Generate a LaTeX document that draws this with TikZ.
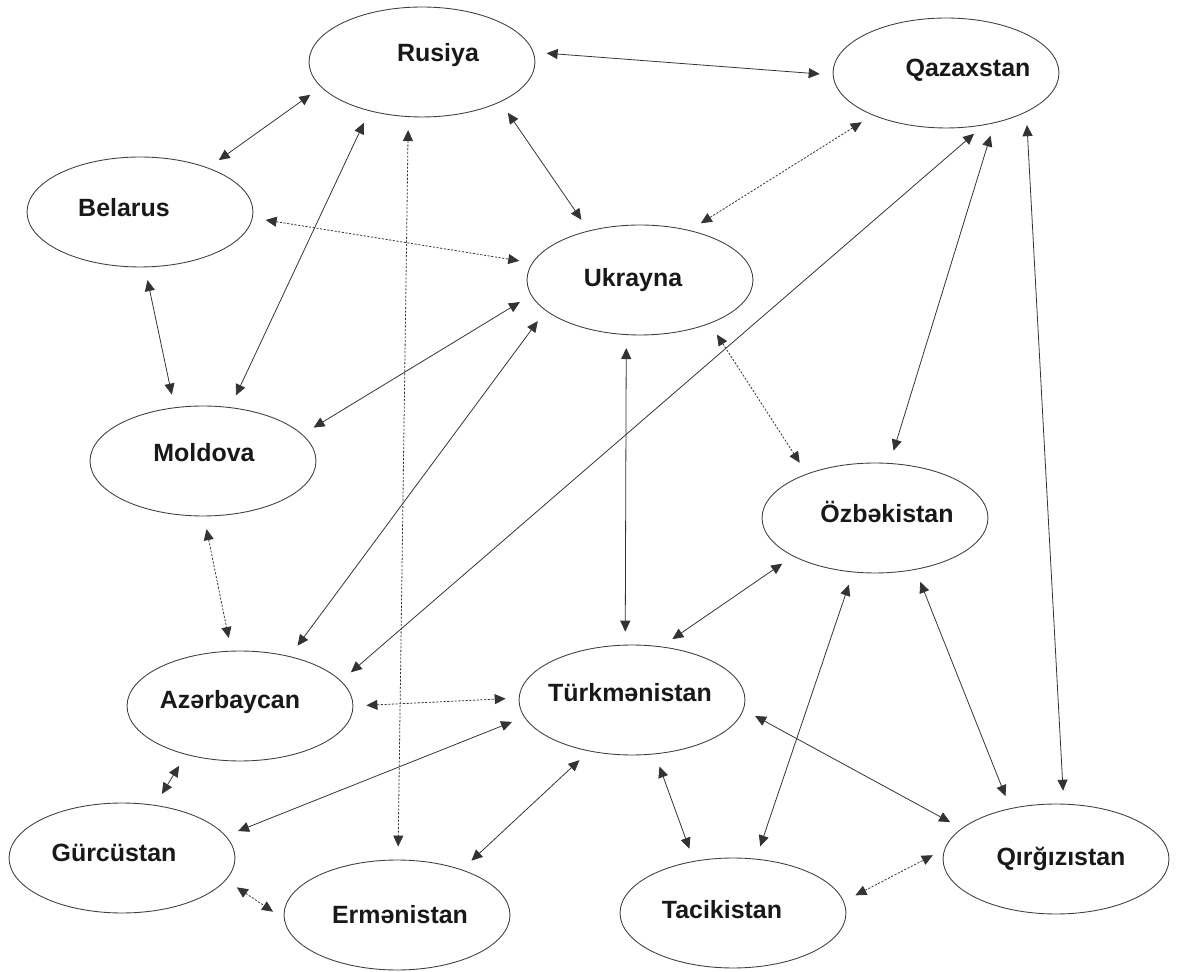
\documentclass[tikz,border=0pt]{standalone}
\usepackage{fontspec}
\setmainfont{Liberation Sans}
\usepackage{tikz}
\usetikzlibrary{shapes.geometric}
\usetikzlibrary{arrows.meta}

\begin{document}
\begin{tikzpicture}[x=0.02cm, y=-0.02cm,
    cty/.style={ellipse, draw=black!75, line width=0.5pt, minimum width=4.52cm, minimum height=2.2cm, inner sep=0pt},
    nm/.style={anchor=base, font=\fontsize{14.2}{17}\selectfont\bfseries, text=black!90},
    link/.style={{Triangle[length=0.22cm,width=0.2cm]}-{Triangle[length=0.22cm,width=0.2cm]}, draw=black!80, line width=0.45pt, shorten >=0.26cm, shorten <=0.26cm},
    dotlink/.style={link, dash pattern=on 1.2pt off 0.9pt}]
    \useasboundingbox (0,0) rectangle (1180,972);

    \node[cty] (rus) at (422,62) {};
    \node[cty] (qaz) at (946,73) {};
    \node[cty] (bel) at (140,212) {};
    \node[cty] (ukr) at (640,280) {};
    \node[cty] (mol) at (203,461) {};
    \node[cty] (ozb) at (875,518) {};
    \node[cty] (aze) at (240,706) {};
    \node[cty] (tur) at (632,700) {};
    \node[cty] (gur) at (122,858) {};
    \node[cty] (erm) at (397,915) {};
    \node[cty] (tac) at (733,913) {};
    \node[cty] (qir) at (1056,859) {};

    \node[nm] (rusl) at (438,62) {Rusiya};
    \node[nm] (qazl) at (968,77) {Qazaxstan};
    \node[nm] (bell) at (124,217) {Belarus};
    \node[nm] (ukrl) at (633,287) {Ukrayna};
    \node[nm] (moll) at (204,462) {Moldova};
    \node[nm] (ozbl) at (887,523) {Özbəkistan};
    \node[nm] (azel) at (230,709) {Azərbaycan};
    \node[nm] (turl) at (630,702) {Türkmənistan};
    \node[nm] (gurl) at (114,861) {Gürcüstan};
    \node[nm] (erml) at (400,923) {Ermənistan};
    \node[nm] (tacl) at (722,918) {Tacikistan};
    \node[nm] (qirl) at (1061,865) {Qırğızıstan};

    \draw[link] (rus.194) -- (bel.33);
    \draw[link] (rus.223) -- (mol.63);
    \draw[link] (rus.333) -- (ukr.136);
    \draw[dotlink] (rus.256) -- (erm.89);
    \draw[link] (rus.5) -- (qaz.181);
    \draw[dotlink] (bel.357) -- (ukr.171);
    \draw[link] (bel.275) -- (mol.118);
    \draw[link] (mol.15) -- (ukr.188);
    \draw[dotlink] (mol.271) -- (aze.99);
    \draw[link] (ukr.198) -- (aze.45);
    \draw[dotlink] (qaz.210) -- (ukr.45);
    \draw[link] (qaz.306) -- (aze.14);
    \draw[link] (qaz.314) -- (ozb.75);
    \draw[link] (qaz.334) -- (qir.82);
    \draw[dotlink] (ukr.328) -- (ozb.147);
    \draw[link] (ukr.256) -- (tur.97);
    \draw[dotlink] (aze.0) -- (tur.179);
    \draw[link] (aze.222) -- (gur.58);
    \draw[link] (gur.12) -- (tur.189);
    \draw[dotlink] (gur.348) -- (erm.182);
    \draw[link] (erm.35) -- (tur.230);
    \draw[link] (tur.61) -- (ozb.205);
    \draw[link] (tur.293) -- (tac.127);
    \draw[link] (ozb.248) -- (tac.67);
    \draw[link] (ozb.308) -- (qir.132);
    \draw[link] (tur.355) -- (qir.162);
    \draw[dotlink] (tac.6) -- (qir.175);
\end{tikzpicture}
\end{document}
